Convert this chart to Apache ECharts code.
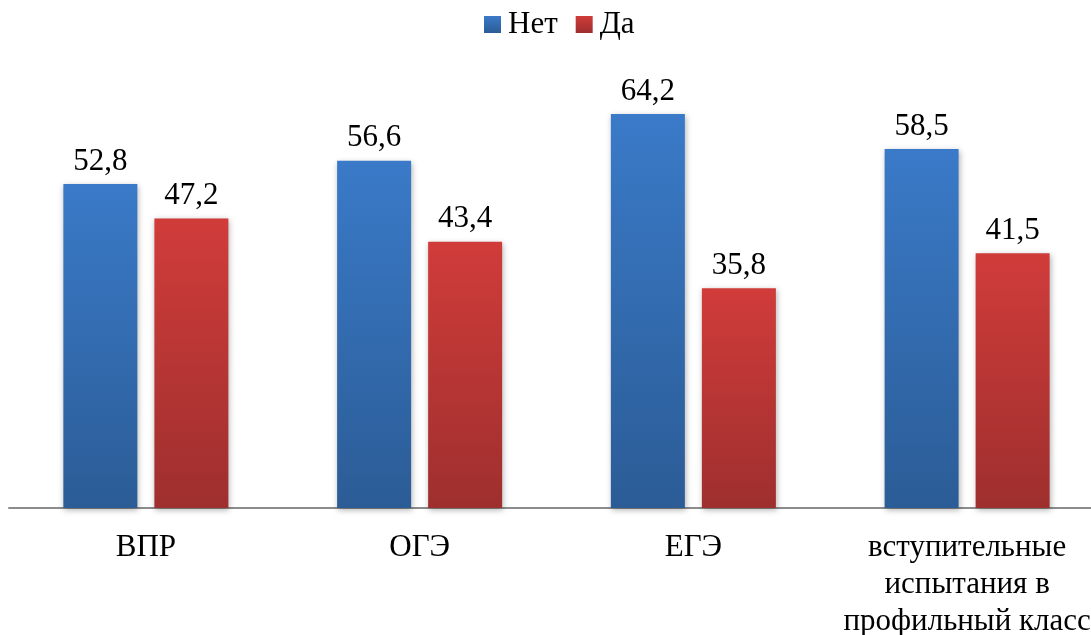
<!DOCTYPE html>
<html>
<head>
<meta charset="utf-8">
<style>
  html, body { margin: 0; padding: 0; background: #ffffff; }
  #chart { width: 1091px; height: 635px; }
</style>
<script src="https://cdn.jsdelivr.net/npm/echarts@6/dist/echarts.min.js"></script>
</head>
<body>
<div id="chart"></div>
<script>
// Exam categories and answer shares (%)
var categories = ['ВПР', 'ОГЭ', 'ЕГЭ', 'вступительные\nиспытания в\nпрофильный класс'];
var seriesNames = ['Нет', 'Да'];
var valuesNo = [52.8, 56.6, 64.2, 58.5];
var valuesYes = [47.2, 43.4, 35.8, 41.5];

var FONT = "'Liberation Serif', 'Times New Roman', Times, serif";
var FONT_SIZE = 31;

function vGrad(top, bottom) {
  return new echarts.graphic.LinearGradient(0, 0, 0, 1, [
    { offset: 0, color: top },
    { offset: 1, color: bottom }
  ]);
}
var blueFill = vGrad('#3a7ac8', '#2b5c96');
var redFill = vGrad('#d03c3a', '#9e2f2e');

function fmt(p) {
  return String(p.value.toFixed(1)).replace('.', ',');
}

function barSeries(name, data, fill) {
  return {
    name: name,
    type: 'bar',
    data: data,
    barWidth: 74,
    barGap: '23%',
    itemStyle: {
      color: fill,
      shadowColor: 'rgba(0,0,0,0.3)',
      shadowBlur: 6,
      shadowOffsetX: 1,
      shadowOffsetY: 2
    },
    label: {
      show: true,
      position: 'top',
      distance: 7,
      formatter: fmt,
      fontFamily: FONT,
      fontSize: FONT_SIZE,
      color: '#000000'
    }
  };
}

var chart = echarts.init(document.getElementById('chart'), null, { renderer: 'canvas' });
chart.setOption({
  animation: false,
  backgroundColor: '#ffffff',
  legend: {
    data: seriesNames,
    left: 479,
    top: 4,
    itemWidth: 17,
    itemHeight: 17,
    itemGap: 18,
    icon: 'rect',
    textStyle: {
      fontFamily: FONT,
      fontSize: FONT_SIZE,
      color: '#000000',
      padding: [0, 0, 0, 2]
    }
  },
  grid: {
    left: 9,
    right: -13,
    top: 78.5,
    bottom: 127,
    containLabel: false,
    outerBoundsMode: 'none'
  },
  xAxis: {
    type: 'category',
    data: categories,
    axisLine: { show: true, lineStyle: { color: '#8c8c8c', width: 2 } },
    axisTick: { show: false },
    axisLabel: {
      interval: 0,
      margin: 21,
      fontFamily: FONT,
      fontSize: FONT_SIZE,
      lineHeight: 37,
      color: '#000000'
    }
  },
  yAxis: {
    type: 'value',
    min: 0,
    max: 70,
    show: false,
    splitLine: { show: false }
  },
  series: [
    barSeries(seriesNames[0], valuesNo, blueFill),
    barSeries(seriesNames[1], valuesYes, redFill)
  ]
});
</script>
</body>
</html>
